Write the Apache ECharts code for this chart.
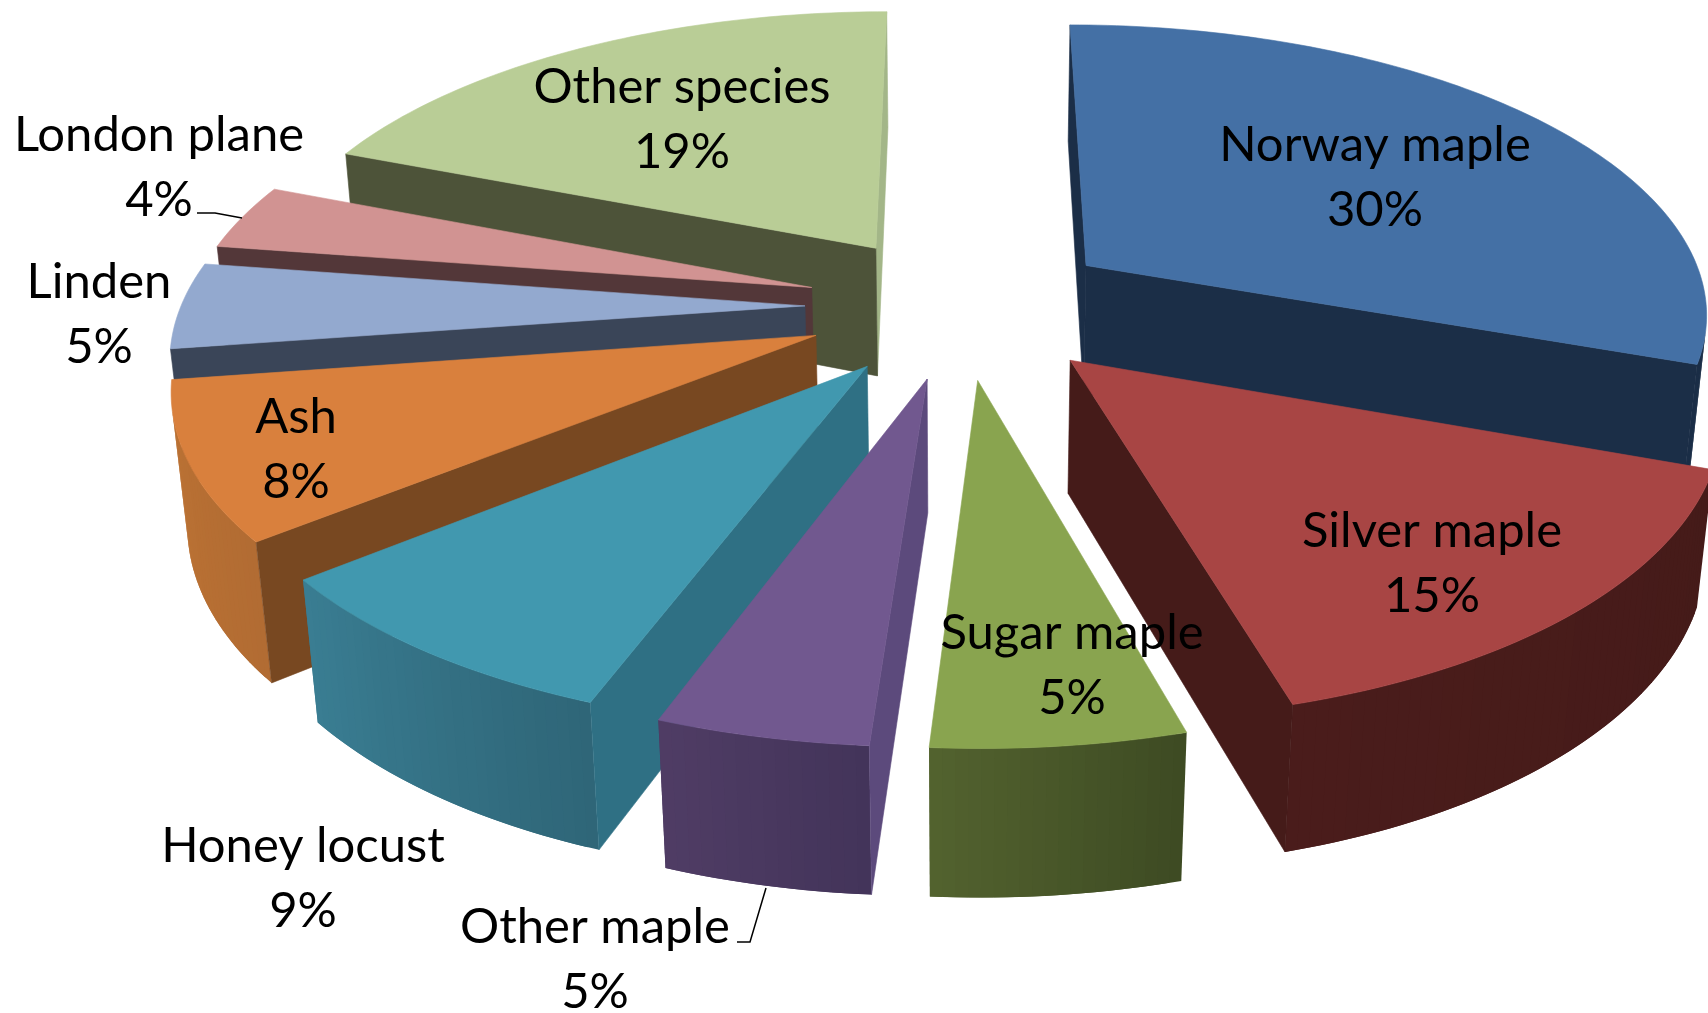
<!DOCTYPE html>
<html>
<head>
<meta charset="utf-8">
<title>Street tree species</title>
<script src="https://cdn.jsdelivr.net/npm/echarts@6/dist/echarts.min.js"></script>
<style>
  html, body { margin: 0; padding: 0; background: #fff; }
  #chart { width: 1708px; height: 1013px; }
</style>
</head>
<body>
<div id="chart"></div>
<script>
// chart data, clockwise from 12 o'clock
var species = ['Norway maple', 'Silver maple', 'Sugar maple', 'Other maple', 'Honey locust', 'Ash', 'Linden', 'London plane', 'Other species'];
var shares = [30.5, 15.1, 5.42, 4.56, 8.52, 8.5, 4.7, 3.6, 19.0];
var shareLabels = ['30%', '15%', '5%', '5%', '9%', '8%', '5%', '4%', '19%'];

// colours, same order as species
var topColors = ['#4470A5', '#A84544', '#89A44F', '#71588F', '#4198AF', '#D9803D', '#93A9CF', '#D19392', '#B9CD96'];
var sideColors = ['#1B2E47', '#451B19', '#3E4B23', '#5C4A7C', '#2F7084', '#784821', '#3A4558', '#533739', '#4D5339'];
var endColors = ['#1B2E47', '#451B19', '#3E4B23', '#5C4A7C', '#2F7084', '#784821', '#3A4558', '#533739', '#A3B688'];
var rimStart = ['#1B2E47', '#451B19', '#3E4B23', '#43345A', '#2F6678', '#B26C33', '#3A4558', '#533739', '#4D5339'];
var rimEnd = ['#1B2E47', '#4A1C1B', '#53632F', '#503D65', '#3A7E93', '#BD7334', '#3A4558', '#533739', '#4D5339'];

// back to front
var paintOrder = [8, 7, 6, 5, 4, 3, 0, 1, 2];

// perspective of the tilted pie
var view = { cx: 961, cy: 306, a: 624, b: 288, p: 0.15, q: 0.02, depth: 133, explode: 0.25 };

function project(x, y, low) {
    var w = 1 - view.p * y + (low ? view.q : 0);
    return [view.cx + view.a * x / w, view.cy + (view.b * y + (low ? view.depth : 0)) / w];
}

function hexMix(c1, c2, t) {
    var out = '#';
    for (var i = 1; i < 7; i += 2) {
        var v1 = parseInt(c1.substr(i, 2), 16), v2 = parseInt(c2.substr(i, 2), 16);
        var v = Math.round(v1 + (v2 - v1) * t).toString(16);
        out += v.length < 2 ? '0' + v : v;
    }
    return out;
}

// screen orientation of a quad, only the ones facing us get drawn
function facing(pts) {
    var s = 0;
    for (var i = 0; i < pts.length; i++) {
        var n = pts[(i + 1) % pts.length];
        s += pts[i][0] * n[1] - n[0] * pts[i][1];
    }
    return s < 0;
}

function poly(pts, color, noStroke) {
    return {
        type: 'polygon',
        shape: { points: pts },
        style: noStroke ? { fill: color } : { fill: color, stroke: color, lineWidth: 0.6 }
    };
}

var total = shares.reduce(function (s, v) { return s + v; }, 0);

function renderSlice(params, api) {
    var i = api.value(0);
    var before = 0;
    for (var k = 0; k < i; k++) before += shares[k];
    var a0 = before / total * Math.PI * 2;
    var a1 = a0 + api.value(1) / total * Math.PI * 2;
    var mid = (a0 + a1) / 2;
    var ox = view.explode * Math.sin(mid), oy = -view.explode * Math.cos(mid);

    var steps = Math.max(4, Math.round((a1 - a0) * 180 / Math.PI));
    var rim = [];
    for (var s = 0; s <= steps; s++) {
        var t = a0 + (a1 - a0) * s / steps;
        rim.push([ox + Math.sin(t), oy - Math.cos(t)]);
    }
    var children = [];

    // outer wall, facets overlap the next one so no seams show
    for (s = 0; s < steps; s++) {
        var e = Math.min(s + 2, steps);
        var quad = [project(rim[s][0], rim[s][1]), project(rim[e][0], rim[e][1]),
            project(rim[e][0], rim[e][1], true), project(rim[s][0], rim[s][1], true)];
        if (facing(quad)) {
            children.push(poly(quad, hexMix(rimStart[i], rimEnd[i], s / steps), true));
        }
    }

    // the two flat walls
    var first = rim[0], last = rim[steps];
    var wallA = [project(ox, oy), project(first[0], first[1]), project(first[0], first[1], true), project(ox, oy, true)];
    var wallB = [project(last[0], last[1]), project(ox, oy), project(ox, oy, true), project(last[0], last[1], true)];
    if (facing(wallB)) children.push(poly(wallB, endColors[i]));
    if (facing(wallA)) children.push(poly(wallA, sideColors[i]));

    // top face
    var top = [project(ox, oy)];
    rim.forEach(function (r) { top.push(project(r[0], r[1])); });
    children.push(poly(top, topColors[i]));

    return { type: 'group', children: children };
}

var labelCenter = [[1375, 176], [1432, 562], [1072, 664], [595, 958], [303, 877], [296, 448], [99, 313], [159, 166], [682, 118]];
var leaders = [
    [[197, 213], [215, 213], [242, 218]],
    [[737, 942], [750, 942], [766, 888]]
];

function renderLabel(params, api) {
    var i = api.value(0);
    return {
        type: 'text',
        style: {
            x: labelCenter[i][0],
            y: labelCenter[i][1] + 2,
            text: species[i] + '\n' + shareLabels[i],
            fill: '#000',
            fontFamily: 'Lato',
            fontSize: 49,
            lineHeight: 65,
            align: 'center',
            verticalAlign: 'middle'
        }
    };
}

var myChart = echarts.init(document.getElementById('chart'));
myChart.setOption({
    animation: false,
    backgroundColor: '#fff',
    graphic: leaders.map(function (pts) {
        return { type: 'polyline', z: 20, shape: { points: pts }, style: { fill: null, stroke: '#000', lineWidth: 1.5 } };
    }),
    series: [
        {
            type: 'custom',
            coordinateSystem: 'none',
            silent: true,
            renderItem: renderSlice,
            data: paintOrder.map(function (i) { return [i, shares[i]]; })
        },
        {
            type: 'custom',
            coordinateSystem: 'none',
            silent: true,
            z: 10,
            renderItem: renderLabel,
            data: species.map(function (n, i) { return [i]; })
        }
    ]
});
</script>
</body>
</html>
